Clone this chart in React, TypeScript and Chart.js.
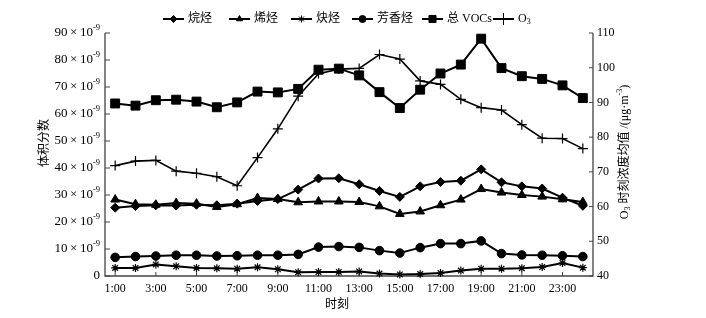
import React, { useEffect, useRef } from "react";
import { Chart, registerables } from "chart.js";
import { drawPoint } from "chart.js/helpers";

Chart.register(...registerables);

const hours = [
  "1:00", "2:00", "3:00", "4:00", "5:00", "6:00", "7:00", "8:00", "9:00", "10:00", "11:00", "12:00",
  "13:00", "14:00", "15:00", "16:00", "17:00", "18:00", "19:00", "20:00", "21:00", "22:00", "23:00", "24:00",
];

const alkanes = [25.3, 25.9, 26.2, 26.1, 26.4, 26.2, 26.8, 27.8, 28.5, 32.0, 36.1, 36.2, 34.0, 31.5, 29.3, 33.2, 34.8, 35.3, 39.5, 34.7, 33.2, 32.4, 29.0, 26.0];
const alkenes = [28.3, 26.6, 26.4, 27.0, 26.8, 25.6, 26.6, 28.9, 28.5, 27.3, 27.6, 27.6, 27.4, 25.8, 23.0, 23.9, 26.2, 28.3, 32.2, 30.9, 30.0, 29.4, 28.4, 27.4];
const alkynes = [3.0, 3.0, 4.3, 3.6, 3.0, 2.9, 2.7, 3.2, 2.5, 1.4, 1.5, 1.5, 1.7, 0.9, 0.6, 0.7, 1.1, 2.0, 2.7, 2.7, 2.9, 3.3, 4.8, 3.1];
const aromatics = [6.9, 7.2, 7.4, 7.7, 7.7, 7.4, 7.5, 7.7, 7.7, 8.0, 10.7, 10.9, 10.6, 9.4, 8.5, 10.5, 12.0, 12.0, 13.0, 8.3, 7.8, 7.7, 7.5, 7.2];
const totalVOCs = [63.9, 63.1, 65.1, 65.3, 64.6, 62.5, 64.3, 68.3, 68.0, 69.3, 76.4, 76.8, 74.3, 68.1, 62.2, 69.0, 75.0, 78.3, 87.9, 77.0, 74.0, 73.0, 70.6, 65.9];
const ozone = [71.8, 73.1, 73.3, 70.2, 69.6, 68.6, 66.0, 74.1, 82.4, 91.8, 98.3, 99.6, 99.8, 103.8, 102.5, 96.2, 95.2, 90.9, 88.5, 87.8, 83.6, 79.7, 79.6, 76.7];

const leftTicks = [0, 10, 20, 30, 40, 50, 60, 70, 80, 90];
const rightTicks = [40, 50, 60, 70, 80, 90, 100, 110];

const seriesNames = ["烷烃", "烯烃", "炔烃", "芳香烃", "总 VOCs", "O3"];
const seriesStyles = ["rectRot", "triangle", "star", "circle", "rect", "cross"];
const seriesRadius = [4.5, 5, 4, 4.3, 6.3, 5];

const leftTitle = "体积分数";
const xTitle = "时刻";
const rightTitleParts = ["O", "3", " 时刻浓度均值 /(μg·m", "-3", ")"];

const SERIF = "'Liberation Serif', 'Times New Roman', 'Noto Sans CJK SC', serif";
const CJK = "'Noto Sans CJK SC', 'Liberation Serif', serif";

function line(ctx: CanvasRenderingContext2D, x1: number, y1: number, x2: number, y2: number) {
  ctx.beginPath();
  ctx.moveTo(x1, y1);
  ctx.lineTo(x2, y2);
  ctx.stroke();
}

const legendX = [163, 229, 291, 352, 422, 493];

const decorPlugin = {
  id: "decor",
  beforeDatasetsDraw(chart: any) {
    const { ctx, chartArea: ca, scales } = chart;
    ctx.save();
    ctx.strokeStyle = "#444";
    ctx.lineWidth = 1.3;
    ctx.beginPath();
    ctx.moveTo(ca.left, ca.top);
    ctx.lineTo(ca.left, ca.bottom);
    ctx.lineTo(ca.right, ca.bottom);
    ctx.lineTo(ca.right, ca.top);
    ctx.stroke();
    ctx.lineWidth = 1;
    for (const v of leftTicks) {
      const py = scales.y.getPixelForValue(v);
      line(ctx, ca.left, py, ca.left + 5, py);
    }
    for (const v of rightTicks) {
      const py = scales.y1.getPixelForValue(v);
      line(ctx, ca.right - 4, py, ca.right, py);
    }
    hours.forEach((_h, i) => {
      if (i % 2 === 0) {
        const px = scales.x.getPixelForValue(i);
        line(ctx, px, ca.bottom, px, ca.bottom - 4);
      }
    });
    ctx.restore();
  },
  afterDraw(chart: any) {
    const { ctx, chartArea: ca, scales } = chart;
    ctx.save();
    ctx.fillStyle = "#000";
    ctx.textBaseline = "middle";

    // left tick labels with superscript
    for (const v of leftTicks) {
      const py = scales.y.getPixelForValue(v);
      const right = ca.left - 5;
      if (v === 0) {
        ctx.font = `13px ${SERIF}`;
        ctx.textAlign = "right";
        ctx.fillText("0", right, py);
        continue;
      }
      ctx.font = `8.5px ${SERIF}`;
      const sup = "-9";
      const sw = ctx.measureText(sup).width;
      ctx.textAlign = "left";
      ctx.fillText(sup, right - sw, py - 5);
      ctx.font = `13px ${SERIF}`;
      ctx.textAlign = "right";
      ctx.fillText(`${v}\u2009×\u200910`, right - sw, py);
    }

    // left title
    ctx.save();
    ctx.translate(43, 143);
    ctx.rotate(-Math.PI / 2);
    ctx.textAlign = "center";
    ctx.font = `12px ${CJK}`;
    ctx.fillText(leftTitle, 0, 0);
    ctx.restore();

    // x title
    ctx.textAlign = "center";
    ctx.font = `12px ${CJK}`;
    ctx.fillText(xTitle, 337, 303);

    // right title
    ctx.save();
    ctx.translate(625, 152);
    ctx.rotate(-Math.PI / 2);
    ctx.textAlign = "left";
    const fonts = [`12px ${SERIF}`, `8px ${SERIF}`, `12px ${SERIF}`, `8px ${SERIF}`, `12px ${SERIF}`];
    const offs = [0, 3, 0, -5, 0];
    let total = 0;
    const widths = rightTitleParts.map((p, i) => {
      ctx.font = fonts[i];
      const w = ctx.measureText(p).width;
      total += w;
      return w;
    });
    let cx = -total / 2;
    rightTitleParts.forEach((p, i) => {
      ctx.font = fonts[i];
      ctx.fillText(p, cx, offs[i]);
      cx += widths[i];
    });
    ctx.restore();

    // legend
    const ly = 19;
    seriesNames.forEach((name, i) => {
      const lx = legendX[i];
      ctx.strokeStyle = "#000";
      ctx.lineWidth = 2;
      line(ctx, lx, ly, lx + 21, ly);
      ctx.fillStyle = "#000";
      ctx.lineWidth = 1;
      drawPoint(ctx, { pointStyle: seriesStyles[i], radius: i === 4 ? 5 : i === 5 ? 6 : 3.5, rotation: 0, borderWidth: 1 } as any, lx + 10.5, ly);
      const tx = lx + 25;
      ctx.textAlign = "left";
      if (name === "O3") {
        ctx.font = `12px ${SERIF}`;
        ctx.fillText("O", tx, ly);
        const ow = ctx.measureText("O").width;
        ctx.font = `8px ${SERIF}`;
        ctx.fillText("3", tx + ow, ly + 3);
      } else {
        ctx.font = `12px ${SERIF}`;
        ctx.fillText(name, tx, ly);
      }
    });
    ctx.restore();
  },
};

export default function App() {
  const ref = useRef<HTMLCanvasElement | null>(null);
  useEffect(() => {
    if (!ref.current) return;
    const mk = (label: string, data: number[], i: number, axis: string) => ({
      label,
      data,
      yAxisID: axis,
      borderColor: "#000",
      backgroundColor: "#000",
      borderWidth: i === 5 ? 1.6 : 2,
      pointStyle: seriesStyles[i],
      pointRadius: seriesRadius[i],
      pointBorderWidth: i === 5 || i === 2 ? 1.2 : 1,
      pointBackgroundColor: "#000",
      pointBorderColor: "#000",
      tension: 0,
      clip: false,
      fill: false,
    });
    const chart = new Chart(ref.current, {
      type: "line",
      data: {
        labels: hours,
        datasets: [
          mk(seriesNames[0], alkanes, 0, "y"),
          mk(seriesNames[1], alkenes, 1, "y"),
          mk(seriesNames[2], alkynes, 2, "y"),
          mk(seriesNames[3], aromatics, 3, "y"),
          mk(seriesNames[4], totalVOCs, 4, "y"),
          mk(seriesNames[5], ozone, 5, "y1"),
        ],
      },
      options: {
        responsive: false,
        animation: false,
        devicePixelRatio: 1,
        layout: { padding: { top: 33, left: 0, right: 0, bottom: 0 } },
        plugins: { legend: { display: false }, tooltip: { enabled: false } },
        scales: {
          x: {
            offset: true,
            grid: { display: false, drawTicks: false },
            border: { display: false },
            ticks: {
              autoSkip: false,
              maxRotation: 0,
              padding: 6,
              color: "#000",
              font: { family: SERIF, size: 12 },
              callback: (_v: any, i: number) => (i % 2 === 0 ? hours[i] : ""),
            },
            afterFit: (s: any) => {
              s.height = 42;
            },
          },
          y: {
            min: 0,
            max: 90,
            grid: { display: false, drawTicks: false },
            border: { display: false },
            ticks: { stepSize: 10, display: false },
            afterFit: (s: any) => {
              s.width = 105;
            },
          },
          y1: {
            position: "right",
            min: 40,
            max: 110,
            grid: { display: false, drawTicks: false },
            border: { display: false },
            ticks: { stepSize: 10, padding: 4, color: "#000", font: { family: SERIF, size: 12 } },
            afterFit: (s: any) => {
              s.width = 113;
            },
          },
        },
      } as any,
      plugins: [decorPlugin],
    });
    return () => chart.destroy();
  }, []);
  return (
    <div style={{ position: "fixed", left: 0, top: 0, width: 706, height: 318, background: "#fff" }}>
      <canvas ref={ref} width={706} height={318} style={{ display: "block", width: 706, height: 318 }} />
    </div>
  );
}
